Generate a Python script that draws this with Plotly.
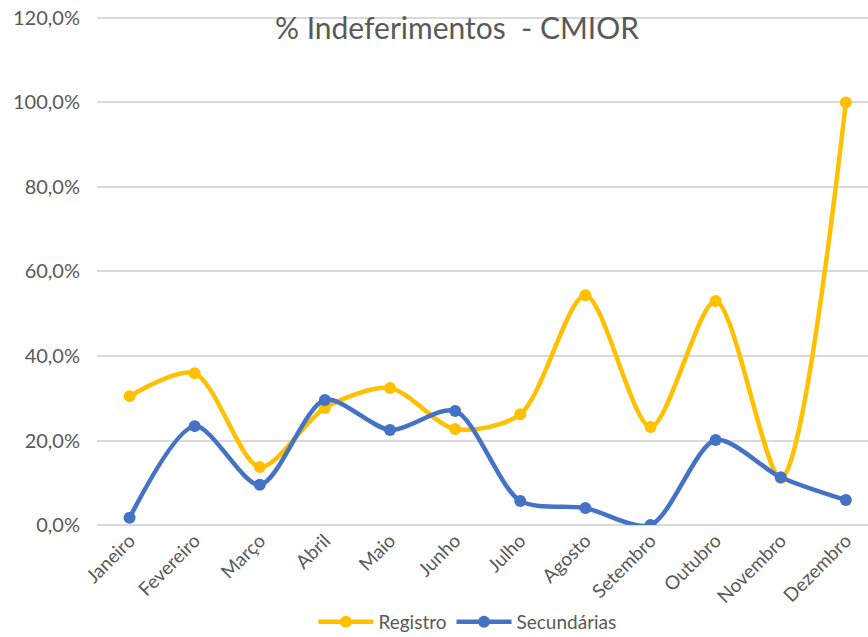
import plotly.graph_objects as go

meses = ["Janeiro", "Fevereiro", "Março", "Abril", "Maio", "Junho", "Julho",
         "Agosto", "Setembro", "Outubro", "Novembro", "Dezembro"]
registro = [0.305, 0.359, 0.137, 0.277, 0.324, 0.227, 0.262, 0.544, 0.232, 0.530, 0.111, 1.000]
secundarias = [0.017, 0.234, 0.095, 0.296, 0.225, 0.270, 0.057, 0.040, 0.000, 0.201, 0.113, 0.059]
y_ticks = [0.0, 0.2, 0.4, 0.6, 0.8, 1.0, 1.2]

W, H = 868, 637
fig = go.Figure()
fig.add_trace(go.Scatter(x=meses, y=registro, name="Registro", mode="lines+markers",
                         line=dict(color="#FFC000", width=4.5, shape="spline", smoothing=0.8),
                         marker=dict(size=12, color="#FFC000")))
fig.add_trace(go.Scatter(x=meses, y=secundarias, name="Secundárias", mode="lines+markers",
                         line=dict(color="#4472C4", width=4.5, shape="spline", smoothing=0.8),
                         marker=dict(size=12, color="#4472C4")))

fig.update_layout(
    width=W, height=H,
    paper_bgcolor="white", plot_bgcolor="white",
    separators=",.",
    font=dict(family="Lato, Open Sans, sans-serif", color="#595959", size=20),
    title=dict(text="% Indeferimentos  - CMIOR", x=457 / W, xanchor="center",
               y=1 - 28 / H, yanchor="middle", yref="container",
               font=dict(size=30, color="#595959")),
    margin=dict(l=97, r=0, t=16, b=H - 525),
    xaxis=dict(range=[-0.5, 11.34], tickangle=-45, showgrid=False, showline=False,
               ticks="", automargin=False, tickfont=dict(size=19, color="#595959")),
    yaxis=dict(range=[0, 1.2047], tickmode="array", tickvals=y_ticks, tickformat=".1%",
               showgrid=True, gridcolor="#D9D9D9", gridwidth=1.5, zeroline=True,
               zerolinecolor="#D9D9D9", zerolinewidth=1.5, ticks="", ticklabelstandoff=16,
               ticklabeloverflow="allow", automargin=False,
               tickfont=dict(size=20, color="#595959")),
    legend=dict(orientation="h", x=417 / W, xanchor="center", y=1 - 622 / H, yref="container",
                yanchor="middle", font=dict(size=19, color="#595959"), itemwidth=55,
                tracegroupgap=0),
    showlegend=True,
)
fig.write_html("out.html", config={"displayModeBar": False},
               post_script="document.body.style.margin='0';document.body.style.overflow='hidden';")
